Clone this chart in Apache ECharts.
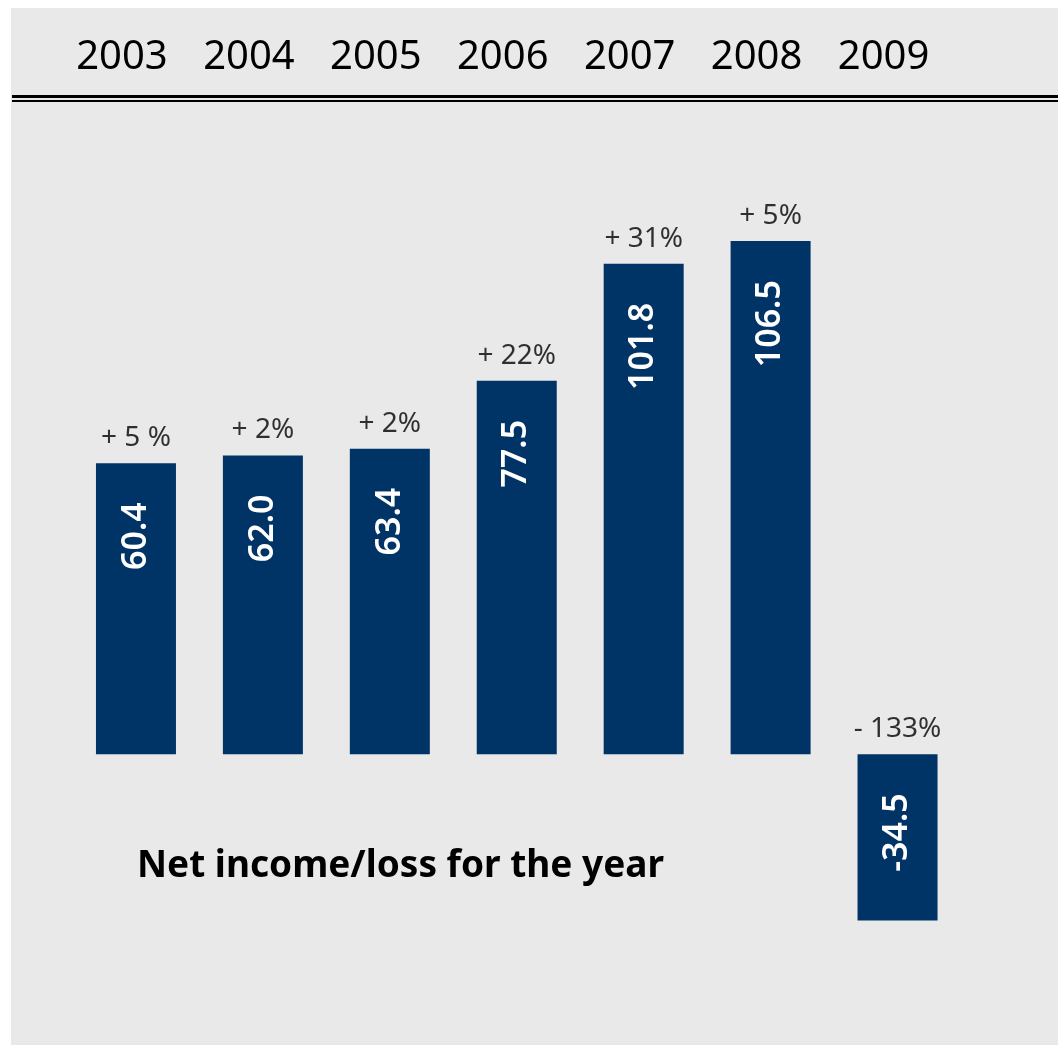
<!DOCTYPE html>
<html>
<head>
<meta charset="utf-8">
<script src="https://cdn.jsdelivr.net/npm/echarts@6/dist/echarts.min.js"></script>
<style>
html,body{margin:0;padding:0;background:#ffffff;}
#chart{width:1058px;height:1046px;}
</style>
</head>
<body>
<div id="chart"></div>
<script>
const years = ['2003', '2004', '2005', '2006', '2007', '2008', '2009'];
const netIncome = [60.4, 62.0, 63.4, 77.5, 101.8, 106.5, -34.5];
const changeLabels = ['+ 5 %', '+ 2%', '+ 2%', '+ 22%', '+ 31%', '+ 5%', '- 133%'];
const chartTitle = 'Net income/loss for the year';

const FONT = 'Noto Sans';
const chart = echarts.init(document.getElementById('chart'), null, {renderer: 'canvas'});

const option = {
  backgroundColor: '#ffffff',
  animation: false,
  graphic: [
    {type: 'rect', z: -10, shape: {x: 11, y: 8, width: 1047, height: 1037}, style: {fill: '#e9e9e9'}},
    {type: 'line', shape: {x1: 12, y1: 96.5, x2: 1058, y2: 96.5}, style: {stroke: '#000', lineWidth: 3}},
    {type: 'line', shape: {x1: 12, y1: 101, x2: 1058, y2: 101}, style: {stroke: '#000', lineWidth: 2}}
  ],
  title: {
    text: chartTitle,
    left: 132,
    top: 843,
    textStyle: {fontFamily: FONT, fontSize: 37, fontWeight: 'bold', color: '#000'}
  },
  grid: [
    {left: 72.5, width: 888.5, top: 176, height: 771},
    {left: 58.5, width: 888.5, top: 86, height: 10}
  ],
  xAxis: [
    {type: 'category', gridIndex: 0, data: years, show: false},
    {type: 'category', gridIndex: 1, data: years, position: 'top',
     axisLine: {show: false}, axisTick: {show: false},
     axisLabel: {fontFamily: FONT, fontSize: 40, color: '#000', margin: 8, lineHeight: 40}}
  ],
  yAxis: [
    {type: 'value', gridIndex: 0, min: -40, max: 120, show: false},
    {type: 'value', gridIndex: 1, show: false}
  ],
  series: [
    {
      type: 'bar',
      xAxisIndex: 0, yAxisIndex: 0,
      data: netIncome,
      barWidth: 80,
      itemStyle: {color: '#003366'},
      label: {
        show: true,
        position: 'insideTop',
        distance: 39,
        rotate: 90,
        align: 'right',
        verticalAlign: 'middle',
        fontFamily: FONT,
        fontSize: 34,
        fontWeight: 600,
        color: '#ffffff',
        formatter: p => netIncome[p.dataIndex].toFixed(1)
      }
    },
    {
      type: 'scatter',
      xAxisIndex: 0, yAxisIndex: 0,
      data: netIncome.map((v, i) => [i, Math.max(v, 0)]),
      symbolSize: 0,
      silent: true,
      label: {
        show: true,
        position: 'top',
        distance: 11,
        fontFamily: FONT,
        fontSize: 28,
        color: '#000',
        formatter: p => changeLabels[p.dataIndex]
      }
    }
  ]
};
chart.setOption(option);
</script>
</body>
</html>
